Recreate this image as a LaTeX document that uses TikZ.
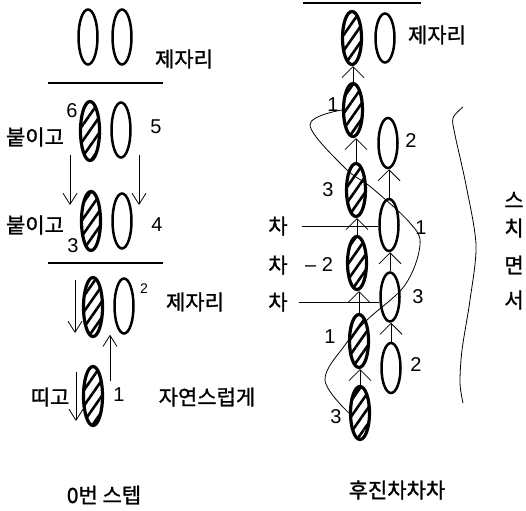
\documentclass[tikz,border=0pt]{standalone}
\usepackage{fontspec}
\setmainfont{Liberation Sans}
\newfontfamily\kr[FakeBold=1.2]{Noto Sans CJK KR}
\usepackage{tikz}
\usetikzlibrary{shapes.geometric, arrows.meta, patterns.meta}

\tikzset{
  hatched/.style={ellipse, draw, line width=3.2pt, inner sep=0pt,
    pattern={Lines[angle=55, distance=9pt, line width=2.6pt]},
    minimum width=19pt, minimum height=#1},
  hatched/.default=59pt,
  plainegg/.style={ellipse, draw, line width=2.5pt, inner sep=0pt,
    minimum width=19pt, minimum height=#1},
  plainegg/.default=55pt,
  kor/.style={font=\kr\fontsize{21}{24}\selectfont, inner sep=0pt},
  num/.style={font=\fontsize{20}{22}\selectfont, inner sep=0pt},
  downarr/.style={-{Straight Barb[length=11pt, width=14pt]}, line width=0.8pt},
  uparr/.style={-{Straight Barb[length=11pt, width=22pt]}, line width=0.8pt},
  bar/.style={line width=2.8pt}
}

\begin{document}
\begin{tikzpicture}[x=1pt, y=-1pt]
    \useasboundingbox (0,0) rectangle (526,510);

    % Left: step 0
    \node[plainegg] at (88,37) (lt1) {};
    \node[plainegg] at (122,37) (lt2) {};
    \node[kor] at (184,59) (jl1) {제자리};
    \coordinate (bl1) at (48,83);
    \coordinate (br1) at (163,83);
    \draw[bar] (bl1) -- (br1);

    \node[hatched] at (90,131) (h6) {};
    \node[plainegg] at (121,130) (p5) {};
    \node[num] at (72,111) (n6) {6};
    \node[num] at (156,127) (n5) {5};
    \node[kor] at (35,137) (bt1) {붙이고};
    \coordinate (a1s) at (70,155);
    \coordinate (a1e) at (70,205);
    \coordinate (a2s) at (139,155);
    \coordinate (a2e) at (139,205);
    \draw[downarr] (a1s) -- (a1e);
    \draw[downarr] (a2s) -- (a2e);

    \node[hatched] at (91,221) (h3) {};
    \node[plainegg] at (122,221) (p4) {};
    \node[kor] at (35,225) (bt2) {붙이고};
    \node[num] at (73,246) (n3) {3};
    \node[num] at (157,225) (n4) {4};
    \coordinate (bl2) at (48,263);
    \coordinate (br2) at (163,263);
    \draw[bar] (bl2) -- (br2);

    \node[hatched] at (93,307) (h2) {};
    \node[plainegg] at (124,306) (p2) {};
    \node[num, font=\fontsize{14}{16}\selectfont] at (144,289) (n2) {2};
    \node[kor] at (195,302) (jl2) {제자리};
    \coordinate (a3s) at (75,280);
    \coordinate (a3e) at (75,333);
    \coordinate (a4s) at (110,381);
    \draw[downarr] (a3s) -- (a3e);
    \draw[downarr] (a4s) -- (a4s |- p2.south);

    \node[hatched] at (93,396) (h1) {};
    \node[num] at (119,395) (n1) {1};
    \node[kor] at (50,397) (dg) {띠고};
    \coordinate (a5s) at (76,372);
    \coordinate (a5e) at (76,421);
    \draw[downarr] (a5s) -- (a5e);
    \node[kor] at (207,397) (jy) {자연스럽게};
    \node[kor] at (104,495) (st0) {0번 스텝};

    % Right: backward cha-cha-cha
    \coordinate (tl) at (303,3);
    \coordinate (tr) at (421,3);
    \draw[bar] (tl) -- (tr);
    \node[hatched=53pt] at (352,38) (rT) {};
    \node[plainegg=49pt] at (385,38) (qT) {};
    \node[kor] at (437,35) (jr) {제자리};

    \node[hatched=53pt] at (353,110) (r1) {};
    \node[num] at (333,105) (m1) {1};
    \node[plainegg=50pt] at (388,143) (q2) {};
    \node[num] at (411,141) (m2) {2};
    \node[hatched=53pt] at (356,190) (r3) {};
    \node[num] at (328,190) (m3) {3};
    \node[plainegg=52pt] at (389,225) (q1) {};
    \node[num] at (421,228) (m4) {1};
    \node[hatched=53pt] at (357,263) (r4) {};
    \node[num] at (319,265) (m5) {\textendash\ 2};
    \node[plainegg=49pt] at (390,297) (q3) {};
    \node[num] at (418,297) (m6) {3};
    \node[hatched=53pt] at (359,341) (r5) {};
    \node[num] at (330,337) (m7) {1};
    \node[plainegg=50pt] at (391,368) (q4) {};
    \node[num] at (416,365) (m8) {2};
    \node[hatched=53pt] at (360,413) (r6) {};
    \node[num] at (336,417) (m9) {3};

    \draw[uparr] (r1.north) -- (r1.north |- rT.south);
    \draw[uparr] (r3.north) -- (r3.north |- r1.south);
    \draw[uparr] (r4.north) -- (r4.north |- r3.south);
    \draw[uparr] (r5.north) -- (r5.north |- r4.south);
    \draw[uparr] (r6.north) -- (r6.north |- r5.south);
    \draw[uparr] (q1.north) -- (q1.north |- q2.south);
    \draw[uparr] (q3.north) -- (q3.north |- q1.south);
    \draw[uparr] (q4.north) -- (q4.north |- q3.south);

    \node[kor] at (278,226) (ch1) {차};
    \node[kor] at (278,265) (ch2) {차};
    \node[kor] at (278,302) (ch3) {차};
    \draw[line width=0.8pt] ([xshift=14pt]ch1.east) -- (ch1.east -| q1.west);
    \draw[line width=0.8pt] ([xshift=11pt]ch3.east) -- (ch3.east -| q3.west);

    % turning path
    \draw[line width=0.8pt] plot[smooth, tension=0.6] coordinates {(r1.west) (310,125) (345,168) (372,188) (410,223) (420,245) (405,285) (367,320) (345,345) (325,380) (r6.west)};

    % brace
    \draw[line width=0.8pt] plot[smooth] coordinates {(463,107) (453,118) (455,135) (466,185) (476,245) (470,300) (462,350) (460,383) (463,403)};
    \node[kor] at (514,200) (s1) {스};
    \node[kor] at (514,228) (s2) {치};
    \node[kor] at (514,265) (s3) {면};
    \node[kor] at (514,300) (s4) {서};

    \node[kor] at (397,490) (hj) {후진차차차};
\end{tikzpicture}
\end{document}
